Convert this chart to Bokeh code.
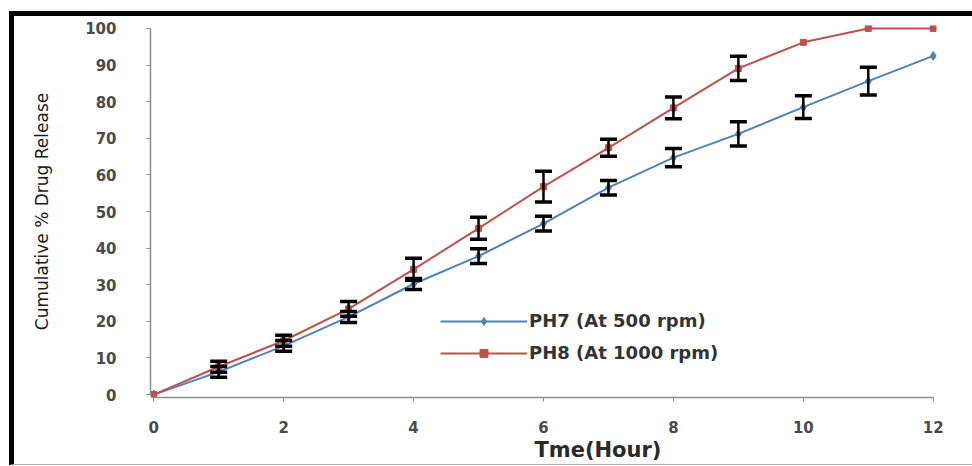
from bokeh.plotting import figure
from bokeh.layouts import column
from bokeh.models import ColumnDataSource, Whisker, TeeHead, Legend, LegendItem, Title, Range1d
from bokeh.embed import file_html
from bokeh.resources import INLINE

# ---- data ----
hours = [0, 1, 2, 3, 4, 5, 6, 7, 8, 9, 10, 11, 12]
ph7_release = [0, 6.2, 13.3, 21.2, 30.2, 37.8, 46.7, 56.5, 64.7, 71.2, 78.5, 85.6, 92.5]
ph7_err = [0, 1.5, 1.5, 1.5, 1.5, 2, 2, 2, 2.5, 3.3, 3.1, 3.8, 0]
ph8_release = [0, 7.6, 14.7, 23.4, 34.2, 45.4, 56.8, 67.4, 78.3, 89.1, 96.2, 100, 100]
ph8_err = [0, 1.5, 1.5, 2, 3, 3, 4.2, 2.3, 3, 3.3, 0, 0, 0]
x_ticks = [0, 2, 4, 6, 8, 10, 12]
y_ticks = [0, 10, 20, 30, 40, 50, 60, 70, 80, 90, 100]
label_ph7 = "PH7 (At 500 rpm)"
label_ph8 = "PH8 (At 1000 rpm)"
x_title = "Tme(Hour)"
y_title = "Cumulative % Drug Release"

BLUE = "#4F81BD"
RED = "#C0504D"

p = figure(width=958, height=448, output_backend="svg", toolbar_location=None,
           x_range=Range1d(-0.05, 12.05), y_range=Range1d(-0.8, 100.8),
           min_border_left=136, min_border_right=36, min_border_top=9, min_border_bottom=67)
p.outline_line_color = None
p.grid.visible = False

for ax in (p.xaxis[0], p.yaxis[0]):
    ax.axis_line_color = "#8c8c8c"
    ax.axis_line_width = 1.5
    ax.major_tick_line_color = "#8c8c8c"
    ax.major_tick_out = 4
    ax.major_tick_in = 0
    ax.minor_tick_line_color = None
    ax.major_label_text_font = "DejaVu Sans"
    ax.major_label_text_font_style = "bold"
    ax.major_label_text_font_size = "15px"
    ax.major_label_text_color = "#4a4a4a"

p.xaxis.ticker = x_ticks
p.yaxis.ticker = y_ticks
p.xaxis.bounds = (0, 12)
p.yaxis.bounds = (0, 100)
p.xaxis.major_label_standoff = 19
p.yaxis.major_label_standoff = 30

p.yaxis.axis_label = y_title
p.yaxis.axis_label_text_font = "DejaVu Sans"
p.yaxis.axis_label_text_font_style = "normal"
p.yaxis.axis_label_text_font_size = "17px"
p.yaxis.axis_label_text_color = "#1a1a1a"
p.yaxis.axis_label_standoff = 30

# x title placed as a below-title, right of centre as in the reference
p.add_layout(Title(text=x_title, align="left", offset=384, standoff=0,
                   text_font="DejaVu Sans", text_font_style="bold", text_font_size="21px",
                   text_color="#2a2a2a"), "below")

src7 = ColumnDataSource(dict(x=hours, y=ph7_release))
src8 = ColumnDataSource(dict(x=hours, y=ph8_release))

l7 = p.line("x", "y", source=src7, line_color=BLUE, line_width=2)
m7 = p.scatter("x", "y", source=src7, marker="diamond", size=9, fill_color=BLUE, line_color=BLUE)
l8 = p.line("x", "y", source=src8, line_color=RED, line_width=2)
m8 = p.scatter("x", "y", source=src8, marker="square", size=6, fill_color=RED, line_color=RED)

def whisker_source(xs, ys, es):
    keep = [i for i, e in enumerate(es) if e > 0]
    return ColumnDataSource(dict(
        base=[xs[i] for i in keep],
        upper=[ys[i] + es[i] for i in keep],
        lower=[ys[i] - es[i] for i in keep]))

for xs, ys, es in ((hours, ph7_release, ph7_err), (hours, ph8_release, ph8_err)):
    w = Whisker(source=whisker_source(xs, ys, es), base="base", upper="upper", lower="lower",
                line_color="black", line_width=2.5, level="overlay",
                upper_head=TeeHead(size=17, line_width=3.5, line_color="black"),
                lower_head=TeeHead(size=17, line_width=3.5, line_color="black"))
    p.add_layout(w)

legend = Legend(items=[LegendItem(label=label_ph7, renderers=[l7, m7]),
                       LegendItem(label=label_ph8, renderers=[l8, m8])],
                location=(290, 34), border_line_color=None, background_fill_alpha=0,
                padding=0, margin=0, glyph_width=87, glyph_height=20, spacing=11,
                label_standoff=2, label_text_font="DejaVu Sans", label_text_font_style="bold",
                label_text_font_size="18px", label_text_color="#333333")
p.add_layout(legend)

page = column(p, styles={"margin-left": "9px", "margin-top": "11px",
                         "border-left": "5px solid black", "border-top": "5px solid black",
                         "border-bottom": "1px solid #b0b0b0"})

open("out.html", "w").write(file_html(page, INLINE))
